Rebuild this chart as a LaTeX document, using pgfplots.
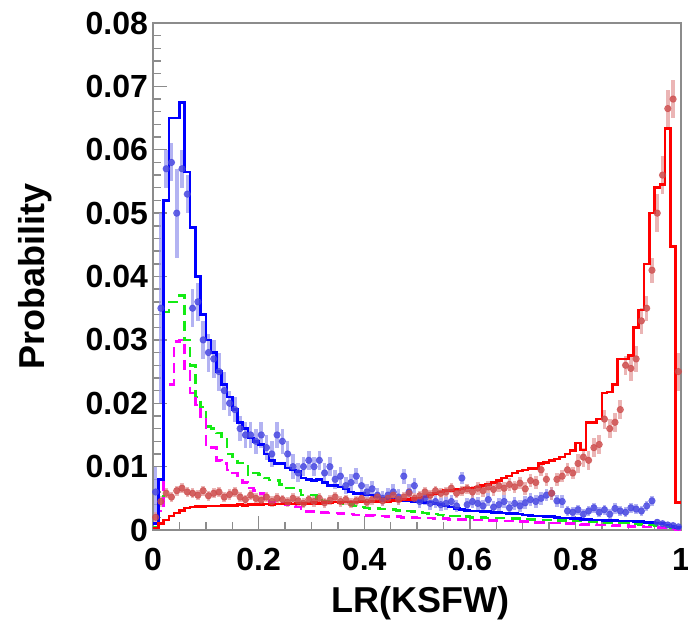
\documentclass[border=0pt]{standalone}
\usepackage{pgfplots}
\pgfplotsset{compat=1.18}
\usepackage{pgfplotstable}
\usepackage{fontspec}
\setmainfont{Liberation Sans}

\definecolor{axgray}{RGB}{140,140,140}
\definecolor{bluept}{RGB}{70,70,225}
\definecolor{redpt}{RGB}{205,75,75}
\definecolor{hgreen}{RGB}{20,235,20}
\definecolor{hmag}{RGB}{255,0,255}

\pgfplotstableread{
x b g m r
0.00 0.0010 0.0005 0.0003 0.0003
0.01 0.0080 0.0035 0.0030 0.0010
0.02 0.0520 0.0344 0.0230 0.0016
0.03 0.0650 0.0360 0.0230 0.0022
0.04 0.0650 0.0360 0.0297 0.0027
0.05 0.0675 0.0370 0.0300 0.0031
0.06 0.0565 0.0300 0.0250 0.0035
0.07 0.0477 0.0260 0.0216 0.0036
0.08 0.0400 0.0210 0.0197 0.0037
0.09 0.0340 0.0194 0.0174 0.0037
0.10 0.0300 0.0163 0.0135 0.0038
0.11 0.0280 0.0160 0.0130 0.0038
0.12 0.0250 0.0153 0.0110 0.0038
0.13 0.0230 0.0145 0.0105 0.0039
0.14 0.0210 0.0120 0.0095 0.0039
0.15 0.0190 0.0115 0.0090 0.0039
0.16 0.0170 0.0106 0.0079 0.0040
0.17 0.0160 0.0100 0.0075 0.0039
0.18 0.0145 0.0087 0.0066 0.0040
0.19 0.0140 0.0090 0.0062 0.0040
0.20 0.0135 0.0088 0.0058 0.0040
0.21 0.0120 0.0082 0.0050 0.0041
0.22 0.0110 0.0079 0.0043 0.0040
0.23 0.0105 0.0078 0.0042 0.0041
0.24 0.0105 0.0072 0.0042 0.0041
0.25 0.0098 0.0066 0.0040 0.0042
0.26 0.0095 0.0066 0.0038 0.0041
0.27 0.0092 0.0062 0.0036 0.0042
0.28 0.0082 0.0055 0.0029 0.0042
0.29 0.0080 0.0055 0.0029 0.0042
0.30 0.0078 0.0055 0.0029 0.0043
0.31 0.0080 0.0050 0.0028 0.0042
0.32 0.0075 0.0046 0.0028 0.0043
0.33 0.0070 0.0045 0.0027 0.0043
0.34 0.0070 0.0044 0.0027 0.0044
0.35 0.0068 0.0043 0.0026 0.0043
0.36 0.0065 0.0042 0.0026 0.0044
0.37 0.0060 0.0040 0.0025 0.0044
0.38 0.0058 0.0038 0.0024 0.0044
0.39 0.0058 0.0036 0.0024 0.0045
0.40 0.0055 0.0035 0.0023 0.0044
0.41 0.0055 0.0034 0.0023 0.0045
0.42 0.0052 0.0034 0.0022 0.0045
0.43 0.0050 0.0033 0.0022 0.0046
0.44 0.0048 0.0033 0.0021 0.0045
0.45 0.0048 0.0032 0.0021 0.0047
0.46 0.0047 0.0031 0.0021 0.0047
0.47 0.0046 0.0030 0.0020 0.0048
0.48 0.0046 0.0030 0.0020 0.0048
0.49 0.0045 0.0029 0.0020 0.0050
0.50 0.0045 0.0028 0.0019 0.0050
0.51 0.0043 0.0027 0.0019 0.0052
0.52 0.0044 0.0026 0.0019 0.0055
0.53 0.0042 0.0025 0.0018 0.0058
0.54 0.0040 0.0024 0.0018 0.0060
0.55 0.0038 0.0023 0.0018 0.0062
0.56 0.0036 0.0022 0.0017 0.0062
0.57 0.0034 0.0022 0.0017 0.0064
0.58 0.0032 0.0021 0.0017 0.0065
0.59 0.0031 0.0021 0.0017 0.0066
0.60 0.0030 0.0020 0.0016 0.0066
0.61 0.0030 0.0020 0.0016 0.0068
0.62 0.0029 0.0020 0.0016 0.0070
0.63 0.0029 0.0019 0.0015 0.0072
0.64 0.0028 0.0019 0.0015 0.0075
0.65 0.0028 0.0019 0.0015 0.0078
0.66 0.0027 0.0019 0.0014 0.0082
0.67 0.0026 0.0018 0.0014 0.0085
0.68 0.0026 0.0018 0.0014 0.0090
0.69 0.0025 0.0018 0.0013 0.0093
0.70 0.0024 0.0017 0.0013 0.0095
0.71 0.0023 0.0017 0.0013 0.0097
0.72 0.0022 0.0017 0.0012 0.0097
0.73 0.0022 0.0016 0.0012 0.0105
0.74 0.0021 0.0016 0.0012 0.0107
0.75 0.0021 0.0016 0.0011 0.0110
0.76 0.0020 0.0015 0.0011 0.0112
0.77 0.0019 0.0015 0.0011 0.0115
0.78 0.0019 0.0015 0.0010 0.0120
0.79 0.0018 0.0014 0.0010 0.0125
0.80 0.0018 0.0014 0.0010 0.0137
0.81 0.0017 0.0014 0.0009 0.0126
0.82 0.0017 0.0013 0.0009 0.0170
0.83 0.0016 0.0013 0.0009 0.0170
0.84 0.0016 0.0013 0.0008 0.0175
0.85 0.0015 0.0012 0.0008 0.0216
0.86 0.0015 0.0012 0.0008 0.0218
0.87 0.0015 0.0012 0.0007 0.0230
0.88 0.0014 0.0011 0.0007 0.0270
0.89 0.0014 0.0011 0.0007 0.0270
0.90 0.0014 0.0010 0.0006 0.0275
0.91 0.0013 0.0010 0.0006 0.0320
0.92 0.0013 0.0009 0.0006 0.0347
0.93 0.0012 0.0009 0.0005 0.0420
0.94 0.0012 0.0008 0.0005 0.0500
0.95 0.0011 0.0007 0.0004 0.0540
0.96 0.0010 0.0006 0.0004 0.0545
0.97 0.0008 0.0005 0.0003 0.0634
0.98 0.0006 0.0004 0.0002 0.0447
0.99 0.0004 0.0003 0.0001 0.0043
1.00 0.0004 0.0003 0.0001 0.0043
}\hist

\pgfplotstableread{
x y e
0.005 0.0060 0.0040
0.015 0.0350 0.0150
0.025 0.0570 0.0030
0.035 0.0580 0.0030
0.045 0.0500 0.0070
0.055 0.0570 0.0030
0.065 0.0530 0.0030
0.075 0.0350 0.0030
0.085 0.0360 0.0030
0.095 0.0300 0.0030
0.105 0.0280 0.0030
0.115 0.0270 0.0030
0.125 0.0250 0.0030
0.135 0.0220 0.0030
0.145 0.0200 0.0020
0.155 0.0190 0.0020
0.165 0.0160 0.0020
0.175 0.0150 0.0020
0.185 0.0150 0.0020
0.195 0.0140 0.0020
0.205 0.0150 0.0020
0.215 0.0130 0.0020
0.225 0.0120 0.0020
0.235 0.0150 0.0020
0.245 0.0140 0.0020
0.255 0.0120 0.0020
0.265 0.0100 0.0020
0.275 0.0090 0.0015
0.285 0.0100 0.0015
0.295 0.0110 0.0015
0.305 0.0100 0.0015
0.315 0.0110 0.0015
0.325 0.0090 0.0015
0.335 0.0100 0.0015
0.345 0.0080 0.0015
0.355 0.0085 0.0015
0.365 0.0070 0.0013
0.375 0.0075 0.0013
0.385 0.0085 0.0013
0.395 0.0070 0.0013
0.405 0.0060 0.0012
0.415 0.0065 0.0012
0.425 0.0055 0.0012
0.435 0.0050 0.0012
0.445 0.0055 0.0012
0.455 0.0060 0.0012
0.465 0.0052 0.0012
0.475 0.0085 0.0012
0.485 0.0060 0.0012
0.495 0.0070 0.0012
0.505 0.0045 0.0010
0.515 0.0050 0.0010
0.525 0.0042 0.0010
0.535 0.0045 0.0010
0.545 0.0040 0.0010
0.555 0.0042 0.0010
0.565 0.0045 0.0010
0.575 0.0038 0.0010
0.585 0.0082 0.0010
0.595 0.0040 0.0010
0.605 0.0045 0.0010
0.615 0.0042 0.0010
0.625 0.0038 0.0010
0.635 0.0048 0.0010
0.645 0.0036 0.0010
0.655 0.0040 0.0010
0.665 0.0045 0.0010
0.675 0.0035 0.0010
0.685 0.0042 0.0010
0.695 0.0038 0.0010
0.705 0.0043 0.0010
0.715 0.0048 0.0010
0.725 0.0045 0.0010
0.735 0.0050 0.0010
0.745 0.0055 0.0010
0.755 0.0058 0.0010
0.765 0.0046 0.0010
0.775 0.0045 0.0010
0.785 0.0030 0.0008
0.795 0.0028 0.0008
0.805 0.0032 0.0008
0.815 0.0025 0.0008
0.825 0.0030 0.0008
0.835 0.0035 0.0008
0.845 0.0028 0.0008
0.855 0.0032 0.0008
0.865 0.0025 0.0008
0.875 0.0034 0.0008
0.885 0.0030 0.0008
0.895 0.0028 0.0008
0.905 0.0035 0.0008
0.915 0.0033 0.0008
0.925 0.0030 0.0008
0.935 0.0038 0.0008
0.945 0.0046 0.0008
0.955 0.0012 0.0005
0.965 0.0010 0.0005
0.975 0.0008 0.0004
0.985 0.0007 0.0004
0.995 0.0005 0.0003
}\bluepts

\pgfplotstableread{
x y e
0.005 0.0020 0.0008
0.015 0.0045 0.0008
0.025 0.0058 0.0008
0.035 0.0052 0.0008
0.045 0.0062 0.0008
0.055 0.0066 0.0008
0.065 0.0060 0.0008
0.075 0.0058 0.0008
0.085 0.0055 0.0008
0.095 0.0062 0.0008
0.105 0.0054 0.0008
0.115 0.0058 0.0008
0.125 0.0060 0.0008
0.135 0.0052 0.0008
0.145 0.0056 0.0008
0.155 0.0060 0.0008
0.165 0.0052 0.0008
0.175 0.0048 0.0008
0.185 0.0055 0.0008
0.195 0.0050 0.0008
0.205 0.0047 0.0008
0.215 0.0052 0.0008
0.225 0.0045 0.0008
0.235 0.0050 0.0008
0.245 0.0048 0.0008
0.255 0.0044 0.0008
0.265 0.0050 0.0008
0.275 0.0046 0.0008
0.285 0.0042 0.0008
0.295 0.0048 0.0008
0.305 0.0045 0.0008
0.315 0.0050 0.0008
0.325 0.0043 0.0008
0.335 0.0047 0.0008
0.345 0.0052 0.0008
0.355 0.0045 0.0008
0.365 0.0048 0.0008
0.375 0.0042 0.0008
0.385 0.0046 0.0008
0.395 0.0050 0.0008
0.405 0.0044 0.0008
0.415 0.0048 0.0008
0.425 0.0052 0.0008
0.435 0.0046 0.0008
0.445 0.0050 0.0008
0.455 0.0055 0.0008
0.465 0.0048 0.0008
0.475 0.0052 0.0008
0.485 0.0058 0.0008
0.495 0.0050 0.0008
0.505 0.0054 0.0008
0.515 0.0060 0.0008
0.525 0.0055 0.0008
0.535 0.0062 0.0008
0.545 0.0058 0.0008
0.555 0.0060 0.0008
0.565 0.0066 0.0008
0.575 0.0058 0.0008
0.585 0.0062 0.0008
0.595 0.0065 0.0008
0.605 0.0060 0.0010
0.615 0.0066 0.0010
0.625 0.0062 0.0010
0.635 0.0068 0.0010
0.645 0.0064 0.0010
0.655 0.0070 0.0010
0.665 0.0066 0.0010
0.675 0.0072 0.0010
0.685 0.0068 0.0010
0.695 0.0074 0.0010
0.705 0.0065 0.0010
0.715 0.0078 0.0010
0.725 0.0075 0.0010
0.735 0.0095 0.0010
0.745 0.0080 0.0010
0.755 0.0058 0.0010
0.765 0.0080 0.0010
0.775 0.0085 0.0010
0.785 0.0095 0.0010
0.795 0.0090 0.0010
0.805 0.0105 0.0015
0.815 0.0115 0.0015
0.825 0.0110 0.0015
0.835 0.0130 0.0015
0.845 0.0135 0.0015
0.855 0.0175 0.0015
0.865 0.0160 0.0015
0.875 0.0170 0.0015
0.885 0.0190 0.0015
0.895 0.0260 0.0015
0.905 0.0255 0.0020
0.915 0.0270 0.0020
0.925 0.0330 0.0020
0.935 0.0350 0.0020
0.945 0.0410 0.0020
0.955 0.0500 0.0030
0.965 0.0560 0.0030
0.975 0.0665 0.0030
0.985 0.0680 0.0030
0.995 0.0250 0.0030
}\redpts

\begin{document}
\begin{tikzpicture}
\useasboundingbox (-76.5pt,-56.5pt) rectangle (267.5pt,265pt);
\begin{axis}[
  at={(0,0)}, anchor=south west,
  scale only axis, width=264pt, height=253.5pt,
  xmin=0, xmax=1, ymin=0, ymax=0.08,
  scaled ticks=false,
  axis line style={draw=axgray, line width=0.9pt},
  every tick/.style={draw=axgray, line width=0.7pt},
  tick align=inside,
  xtick pos=bottom, ytick pos=left,
  xtick={0,0.2,0.4,0.6,0.8,1},
  xticklabels={0,0.2,0.4,0.6,0.8,1},
  ytick={0,0.01,0.02,0.03,0.04,0.05,0.06,0.07,0.08},
  yticklabels={0,0.01,0.02,0.03,0.04,0.05,0.06,0.07,0.08},
  minor x tick num=3, minor y tick num=4,
  major tick length=7pt, minor tick length=4pt,
  ticklabel style={font=\bfseries\fontsize{16}{18}\selectfont},
  xticklabel style={yshift=-5.5pt},
  yticklabel style={xshift=1pt},
  xlabel={LR(KSFW)}, ylabel={Probability},
  label style={font=\bfseries\fontsize{18}{20}\selectfont},
  xlabel style={at={(axis description cs:0.507,-0.144)}, anchor=center},
  ylabel style={at={(axis description cs:-0.2235,0.5)}, anchor=center},
]
\addplot[only marks, mark=*, mark size=1.6pt, color=bluept, opacity=0.75,
  error bars/.cd, y dir=both, y explicit, x dir=both, x fixed=0.004,
  error bar style={line width=1.8pt, color=bluept!55}, error mark=none]
  table[x=x, y=y, y error=e]{\bluepts};
\addplot[only marks, mark=*, mark size=1.6pt, color=redpt, opacity=0.75,
  error bars/.cd, y dir=both, y explicit, x dir=both, x fixed=0.004,
  error bar style={line width=1.8pt, color=redpt!55}, error mark=none]
  table[x=x, y=y, y error=e]{\redpts};
\addplot[const plot, color=hgreen, line width=1.3pt, dash pattern=on 5pt off 3pt] table[x=x, y=g]{\hist};
\addplot[const plot, color=hmag, line width=1.3pt, dash pattern=on 5pt off 3pt] table[x=x, y=m]{\hist};
\addplot[const plot, color=blue, line width=1.3pt] table[x=x, y=b]{\hist};
\addplot[const plot, color=red, line width=1.3pt] table[x=x, y=r]{\hist};
\end{axis}
\end{tikzpicture}
\end{document}
